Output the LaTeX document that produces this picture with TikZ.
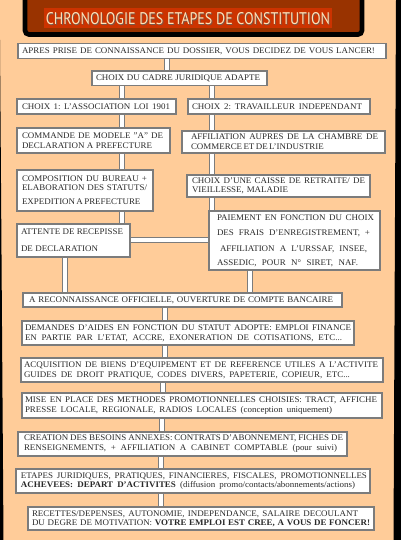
\documentclass[tikz,border=0pt]{standalone}
\usepackage{fontspec}
\setmainfont{Liberation Serif}[FakeStretch=1.04]
\newfontfamily\titlefont{PT Sans}
\usepackage{graphicx}
\definecolor{peach}{HTML}{FFCC99}
\definecolor{tbrown}{HTML}{993300}
\definecolor{thl}{HTML}{CC3300}
\definecolor{ttext}{HTML}{FFE2B8}
\definecolor{tshadow}{HTML}{3A1000}
\definecolor{boxline}{HTML}{7C7C7C}
\definecolor{txt}{HTML}{2A2A2A}
\pgfdeclarelayer{back}
\pgfdeclarelayer{mid}
\pgfsetlayers{back,mid,main}
\newcommand\pd{4pt}
\newcommand\Ln[2]{\hspace*{\pd}\hbox to #1pt{\spaceskip=\fontdimen2\font plus 1fil minus 0.4\fontdimen2\font
  \xspaceskip=\spaceskip #2}}
\newcommand\TitleText{CHRONOLOGIE DES ETAPES DE CONSTITUTION}
\begin{document}
\begin{tikzpicture}[x=1pt,y=-1pt,
  box/.style={draw=boxline, line width=1.1pt, fill=white, inner xsep=0pt, inner ysep=0pt,
    align=left, font=\fontsize{8.6}{10}\selectfont, text=txt},
  conn/.style={draw=boxline, line width=0.9pt, double=white, double distance=3.6pt},
  titlebar/.style={fill=thl, inner sep=0pt, minimum width=287.4pt, minimum height=20pt}]
\useasboundingbox (0,0) rectangle (400,540);
\begin{pgfonlayer}{back}
  \fill[peach] (0,0) rectangle (400,540);
  \fill[black] (396,-1) -- (401,-1) -- (401,541) -- (393.5,541) -- cycle;
  \fill[black] (-1,40) -- (0,40) -- (3.5,541) -- (-1,541) -- cycle;
  \draw[line width=4.7pt, black, fill=tbrown, rounded corners=4pt] (25,-6) rectangle (362,34.5);
\end{pgfonlayer}

\node[titlebar] (title) at (188,18.3) {\resizebox{284pt}{12pt}{\titlefont
  \rlap{\smash{\kern0.06em\raisebox{-0.06em}{\color{tshadow!70}\TitleText}}}\color{ttext}\TitleText}};

% boxes
\node[box, text width=368pt, minimum height=15pt] (apres) at (202,51)
  {\renewcommand\pd{4pt}\Ln{353}{APRES PRISE DE CONNAISSANCE DU DOSSIER, VOUS DECIDEZ DE VOUS LANCER!}};
\node[box, text width=175pt, minimum height=14.5pt] (cadre) at (179.5,78.25)
  {\renewcommand\pd{4pt}\Ln{164}{CHOIX DU CADRE JURIDIQUE ADAPTE}};
\node[box, text width=159pt, minimum height=15pt] (choixa) at (96.5,106.5)
  {\renewcommand\pd{5pt}\Ln{148}{CHOIX 1: L'ASSOCIATION LOI 1901}};
\node[box, text width=182pt, minimum height=15pt] (choixb) at (279,106.5)
  {\renewcommand\pd{4pt}\Ln{170}{CHOIX 2: TRAVAILLEUR INDEPENDANT}};
\node[box, text width=153pt, minimum height=25pt] (commande) at (93.5,140.5)
  {\renewcommand\pd{5pt}\Ln{141}{COMMANDE DE MODELE "A" DE}\\\Ln{130}{DECLARATION A PREFECTURE}};
\node[box, text width=203pt, minimum height=22pt] (affil) at (283.5,142)
  {\renewcommand\pd{9pt}\Ln{187}{AFFILIATION AUPRES DE LA CHAMBRE DE}\\\Ln{129}{COMMERCE ET DE L'INDUSTRIE}};
\node[box, text width=136pt, minimum height=41pt] (compo) at (85,190.5)
  {\renewcommand\pd{5pt}\Ln{125}{COMPOSITION DU BUREAU +}\\[-1pt]\Ln{125}{ELABORATION DES STATUTS/}\\[4pt]\Ln{118}{EXPEDITION A PREFECTURE}};
\node[box, text width=183pt, minimum height=22pt] (caisse) at (278.5,186)
  {\renewcommand\pd{5pt}\Ln{173}{CHOIX D'UNE CAISSE DE RETRAITE/ DE}\\[-1pt]\Ln{96}{VIEILLESSE, MALADIE}};
\node[box, text width=113pt, minimum height=33pt] (attente) at (73.5,240.5)
  {\renewcommand\pd{4pt}\Ln{102}{ATTENTE DE RECEPISSE}\\[7pt]\Ln{77}{DE DECLARATION}};
\node[box, text width=171pt, minimum height=59pt] (paiement) at (294.5,240.5)
  {\renewcommand\pd{8pt}\Ln{157}{PAIEMENT EN FONCTION DU CHOIX}\\[5pt]\Ln{153}{DES FRAIS D'ENREGISTREMENT, +}\\[6pt]{\renewcommand\pd{11pt}\Ln{147}{AFFILIATION A L'URSSAF, INSEE,}}\\[4pt]\Ln{141}{ASSEDIC, POUR N° SIRET, NAF.}};
\node[box, text width=319pt, minimum height=14pt] (recon) at (182.5,300)
  {\renewcommand\pd{6pt}\Ln{304}{A RECONNAISSANCE OFFICIELLE, OUVERTURE DE COMPTE BANCAIRE}};
\node[box, text width=332pt, minimum height=24pt] (demandes) at (188,333)
  {\renewcommand\pd{3pt}\Ln{326}{DEMANDES D'AIDES EN FONCTION DU STATUT ADOPTE: EMPLOI FINANCE}\\\Ln{317}{EN PARTIE PAR L'ETAT, ACCRE, EXONERATION DE COTISATIONS, ETC...}};
\node[box, text width=362pt, minimum height=24pt] (acq) at (202,370)
  {\renewcommand\pd{3pt}\Ln{354}{ACQUISITION DE BIENS D'EQUIPEMENT ET DE REFERENCE UTILES A L'ACTIVITE}\\\Ln{326}{GUIDES DE DROIT PRATIQUE, CODES DIVERS, PAPETERIE, COPIEUR, ETC...}};
\node[box, text width=360pt, minimum height=25pt] (mise) at (202,405.5)
  {\renewcommand\pd{3pt}\Ln{352}{MISE EN PLACE DES METHODES PROMOTIONNELLES CHOISIES: TRACT, AFFICHE}\\\Ln{307}{PRESSE LOCALE, REGIONALE, RADIOS LOCALES (conception uniquement)}};
\node[box, text width=329pt, minimum height=24pt] (creation) at (182.5,444)
  {\renewcommand\pd{6pt}\Ln{319}{CREATION DES BESOINS ANNEXES: CONTRATS D'ABONNEMENT, FICHES DE}\\\Ln{313}{RENSEIGNEMENTS, + AFFILIATION A CABINET COMPTABLE (pour suivi)}};
\node[box, text width=354pt, minimum height=24pt] (etapes) at (193,481)
  {\renewcommand\pd{5pt}\Ln{346}{ETAPES JURIDIQUES, PRATIQUES, FINANCIERES, FISCALES, PROMOTIONNELLES}\\[-1pt]\Ln{334}{\textbf{ACHEVEES: DEPART D'ACTIVITES} (diffusion promo/contacts/abonnements/actions)}};
\node[box, text width=346pt, minimum height=23pt] (recettes) at (201,518.5)
  {\renewcommand\pd{4pt}\Ln{326}{RECETTES/DEPENSES, AUTONOMIE, INDEPENDANCE, SALAIRE DECOULANT}\\[-1pt]\Ln{338}{DU DEGRE DE MOTIVATION: \textbf{VOTRE EMPLOI EST CREE, A VOUS DE FONCER!}}};

% connector columns
\coordinate (xa) at (167,0);
\coordinate (xl) at (122,0);
\coordinate (xr) at (212,0);
\coordinate (xat) at (65,0);
\coordinate (xpa) at (250,0);
\coordinate (xm) at (165,0);
\coordinate (xn) at (163,0);
\coordinate (xo) at (162,0);
\coordinate (xp) at (161,0);
\coordinate (yh) at (0,240);

\begin{pgfonlayer}{mid}
  \draw[conn] (apres.south -| xa) -- (cadre.north -| xa);
  \draw[conn] (cadre.south -| xl) -- (choixa.north -| xl);
  \draw[conn] (cadre.south -| xr) -- (choixb.north -| xr);
  \draw[conn] (choixa.south -| xl) -- (commande.north -| xl);
  \draw[conn] (commande.south -| xl) -- (compo.north -| xl);
  \draw[conn] (compo.south -| xl) -- (attente.north -| xl);
  \draw[conn] (choixb.south -| xr) -- (affil.north -| xr);
  \draw[conn] (affil.south -| xr) -- (caisse.north -| xr);
  \draw[conn] (caisse.south -| xr) -- (paiement.north -| xr);
  \draw[conn] (attente.east |- yh) -- (paiement.west |- yh);
  \draw[conn] (attente.south -| xat) -- (recon.north -| xat);
  \draw[conn] (paiement.south -| xpa) -- (recon.north -| xpa);
  \draw[conn] (recon.south -| xm) -- (demandes.north -| xm);
  \draw[conn] (demandes.south -| xm) -- (acq.north -| xm);
  \draw[conn] (acq.south -| xn) -- (mise.north -| xn);
  \draw[conn] (mise.south -| xo) -- (creation.north -| xo);
  \draw[conn] (creation.south -| xp) -- (etapes.north -| xp);
  \draw[conn] (etapes.south -| xp) -- (recettes.north -| xp);
\end{pgfonlayer}
\end{tikzpicture}
\end{document}
